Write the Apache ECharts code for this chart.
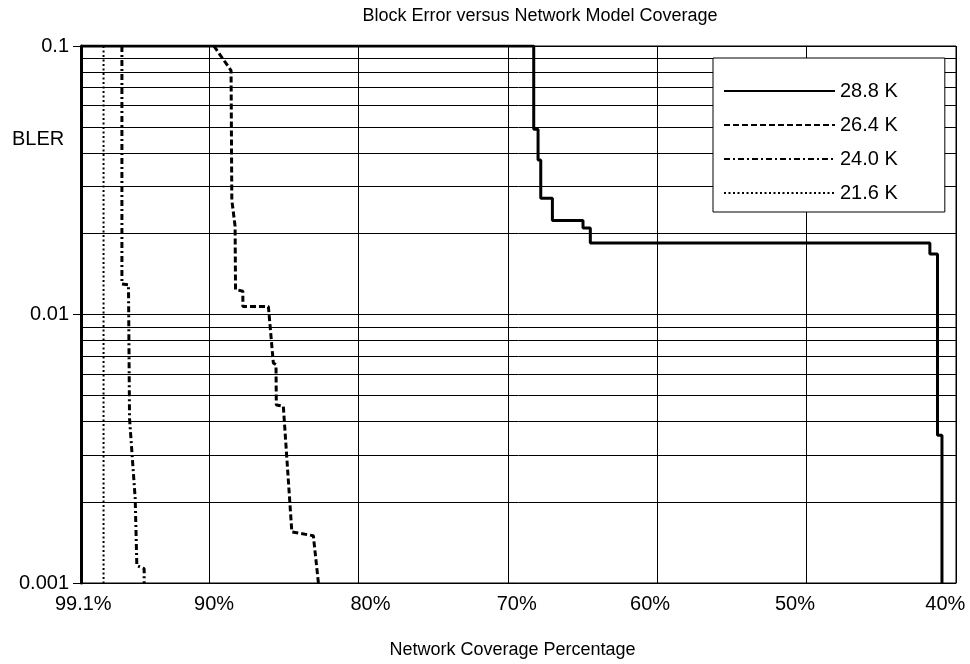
<!DOCTYPE html>
<html>
<head>
<meta charset="utf-8">
<script src="https://cdn.jsdelivr.net/npm/echarts@6/dist/echarts.min.js"></script>
<style>html,body{margin:0;padding:0;background:#fff}#c{width:970px;height:664px}</style>
</head>
<body>
<div id="c"></div>
<script>
// ---- data ----
const seriesNames = ['28.8 K', '26.4 K', '24.0 K', '21.6 K'];

const cov288  = [98.6, 68.28, 68.28, 67.99, 67.99, 67.81, 67.81, 67.03, 67.03, 64.98, 64.98, 64.49, 64.49, 41.75, 41.75, 41.24, 41.24, 40.94, 40.94];
const bler288 = [0.1, 0.1, 0.049, 0.049, 0.0376, 0.0376, 0.0271, 0.0271, 0.0224, 0.0224, 0.021, 0.021, 0.01845, 0.01845, 0.0168, 0.0168, 0.00355, 0.00355, 0.001];

const cov264  = [89.7, 88.55, 88.5, 88.28, 88.25, 87.76, 87.76, 86.05, 85.85, 85.72, 85.54, 85.52, 85.05, 84.48, 83.04, 82.7];
const bler264 = [0.1, 0.081, 0.0267, 0.0213, 0.0124, 0.0122, 0.0107, 0.0107, 0.008, 0.0066, 0.0065, 0.0046, 0.00455, 0.00155, 0.0015, 0.001];

const cov240  = [95.86, 95.86, 95.42, 95.35, 94.97, 94.86, 94.37, 94.37];
const bler240 = [0.1, 0.013, 0.0129, 0.0041, 0.00206, 0.00116, 0.00113, 0.001];

const cov216  = [97.09, 97.09];
const bler216 = [0.1, 0.001];

const xTickValues = [98.6, 90, 80, 70, 60, 50, 40];
const xTickLabels = ['99.1%', '90%', '80%', '70%', '60%', '50%', '40%'];
const yTickValues = [0.1, 0.01, 0.001];
const yTickLabels = ['0.1', '0.01', '0.001'];
const yMinorGrid  = [0.02, 0.03, 0.04, 0.05, 0.06, 0.07, 0.08, 0.09,
                     0.002, 0.003, 0.004, 0.005, 0.006, 0.007, 0.008, 0.009];

// ---- chart ----
const FONT = 'Liberation Sans, Arial, sans-serif';
function pairs(xs, ys) { return xs.map((x, i) => [x, ys[i]]); }

const labelShift = [2.3, 4.7, 11.7, 8.7, -7.3, -11.7, -10.7];
const rich = {};
labelShift.forEach((d, i) => {
  rich['s' + i] = {
    fontSize: 20, fontFamily: FONT, color: '#000',
    padding: d >= 0 ? [0, 0, 0, 2 * d] : [0, -2 * d, 0, 0]
  };
});

const xMin = 40, xMax = 98.6;

const chart = echarts.init(document.getElementById('c'), null, { renderer: 'canvas' });
chart.setOption({
  animation: false,
  backgroundColor: '#fff',
  textStyle: { fontFamily: FONT },
  title: {
    text: 'Block Error versus Network Model Coverage',
    left: 535, top: 2, textAlign: 'center',
    textStyle: { fontSize: 18, fontWeight: 'normal', color: '#000', fontFamily: FONT }
  },
  grid: { left: 81, right: 14, top: 46, bottom: 81, show: true, borderColor: '#000', borderWidth: 1 },
  legend: {
    data: seriesNames,
    orient: 'vertical',
    left: 713, top: 58,
    padding: [23, 47, 9, 10],
    itemWidth: 111, itemHeight: 14, itemGap: 14,
    backgroundColor: '#fff', borderColor: '#000', borderWidth: 1,
    itemStyle: { opacity: 0 },
    textStyle: { fontSize: 20, lineHeight: 20, color: '#000', fontFamily: FONT },
    selectedMode: false
  },
  graphic: [{
    type: 'text', left: 12, top: 129,
    style: { text: 'BLER', fontSize: 20, fontFamily: FONT, fill: '#000' }
  }],
  xAxis: {
    type: 'value', inverse: true, min: xMin, max: xMax, interval: 10,
    name: 'Network Coverage Percentage', nameLocation: 'middle', nameGap: 58,
    nameTextStyle: { fontSize: 18, color: '#000', fontFamily: FONT, padding: [0, 12, 0, 0] },
    axisLine: { show: true, onZero: false, lineStyle: { color: '#000', width: 1 } },
    axisTick: { show: false },
    splitLine: { show: true, lineStyle: { color: '#000', width: 1 } },
    axisLabel: {
      margin: 11, color: '#000', fontSize: 20, fontFamily: FONT,
      showMinLabel: true, showMaxLabel: true,
      formatter: function (v) {
        for (let i = 0; i < xTickValues.length; i++) {
          if (Math.abs(v - xTickValues[i]) < 0.05) return '{s' + i + '|' + xTickLabels[i] + '}';
        }
        return '';
      },
      rich: rich
    }
  },
  yAxis: {
    type: 'log', logBase: 10, min: 0.001, max: 0.1,
    axisLine: { show: true, lineStyle: { color: '#000', width: 3 } },
    axisTick: { show: true, length: 8, lineStyle: { color: '#000', width: 1 } },
    splitLine: { show: true, lineStyle: { color: '#000', width: 1 } },
    axisLabel: {
      margin: 12, color: '#000', fontSize: 20, fontFamily: FONT,
      formatter: function (v) {
        let best = 0, bd = Infinity;
        yTickValues.forEach((t, i) => { const d = Math.abs(Math.log10(v) - Math.log10(t)); if (d < bd) { bd = d; best = i; } });
        return yTickLabels[best];
      }
    }
  },
  series: [
    {
      name: 'minor grid', type: 'lines', coordinateSystem: 'cartesian2d',
      z: 1, silent: true, polyline: false,
      lineStyle: { color: '#000', width: 1, type: 'solid', opacity: 1 },
      data: yMinorGrid.map(v => ({ coords: [[xMax, v], [xMin, v]] }))
    },
    {
      name: seriesNames[0], type: 'line', symbol: 'none', z: 5,
      itemStyle: { color: '#000' },
      lineStyle: { color: '#000', width: 3, type: 'solid' },
      data: pairs(cov288, bler288)
    },
    {
      name: seriesNames[1], type: 'line', symbol: 'none', z: 5,
      itemStyle: { color: '#000' },
      lineStyle: { color: '#000', width: 3, type: [6, 3] },
      data: pairs(cov264, bler264)
    },
    {
      name: seriesNames[2], type: 'line', symbol: 'none', z: 5,
      itemStyle: { color: '#000' },
      lineStyle: { color: '#000', width: 3, type: [6, 3, 2, 3] },
      data: pairs(cov240, bler240)
    },
    {
      name: seriesNames[3], type: 'line', symbol: 'none', z: 5,
      itemStyle: { color: '#000' },
      lineStyle: { color: '#000', width: 2, type: [2, 2.5] },
      data: pairs(cov216, bler216)
    }
  ]
});
</script>
</body>
</html>
